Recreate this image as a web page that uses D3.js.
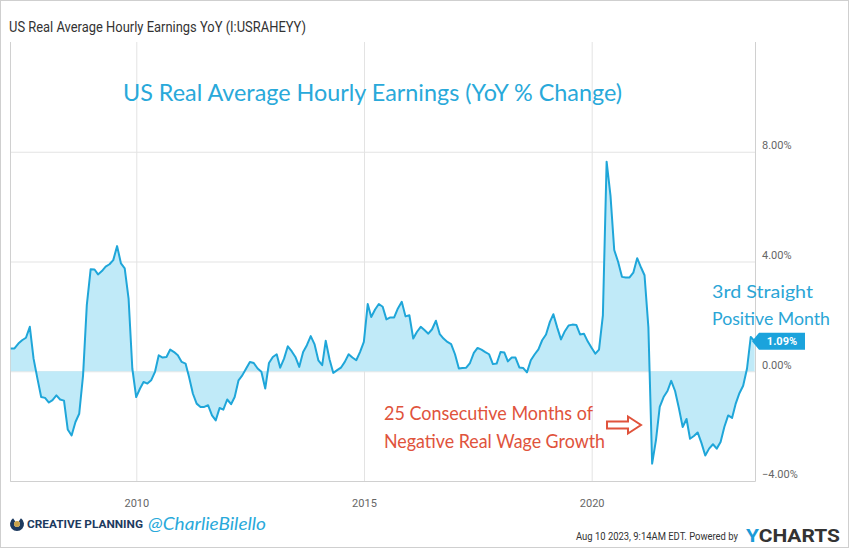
<!DOCTYPE html>
<html>
<head>
<meta charset="utf-8">
<script src="https://cdn.jsdelivr.net/npm/d3@7"></script>
<style>
  body { margin: 0; background: #fff; }
  svg { display: block; font-family: Roboto, "Liberation Sans", sans-serif; }
</style>
</head>
<body>
<svg width="850" height="549"></svg>
<script>
// US real average hourly earnings, YoY % change, monthly from Mar 2007 to Jul 2023
const firstMonth = [2007, 3]; // year, month (1 = Jan)
const yoy = [
  0.83, 0.83, 1.01, 1.13, 1.22, 1.62, 0.46, -0.27, -0.94, -0.97,
  -1.14, -1.05, -0.88, -1.03, -1.07, -2.12, -2.34, -1.85, -1.55, -0.15,
  2.41, 3.72, 3.71, 3.53, 3.65, 3.81, 3.9, 4.05, 4.56, 3.93,
  3.75, 2.65, 0.1, -0.94, -0.63, -0.39, -0.45, -0.33, -0.02, 0.58,
  0.5, 0.52, 0.79, 0.7, 0.58, 0.34, 0.28, -0.21, -0.82, -1.18,
  -1.3, -1.3, -1.24, -1.61, -1.79, -1.34, -1.4, -1.03, -1.2, -0.94,
  -0.33, -0.15, 0.1, 0.34, 0.3, 0.1, -0.02, -0.63, 0.3, 0.52,
  0.62, 0.13, 0.46, 0.91, 0.73, 0.52, 0.16, 0.7, 0.95, 1.28,
  0.99, 0.4, 0.22, 1.11, 0.43, -0.06, 0.04, 0.13, 0.34, 0.62,
  0.5, 0.4, 0.7, 1.07, 2.45, 1.98, 2.25, 2.45, 2.35, 1.89,
  1.96, 1.96, 2.29, 2.53, 2.0, 2.04, 1.19, 1.43, 1.62, 1.5,
  1.37, 1.53, 1.84, 1.35, 1.19, 1.07, 0.99, 0.62, 0.1, 0.12,
  0.13, 0.3, 0.67, 0.85, 0.79, 0.7, 0.62, 0.26, 0.28, 0.7,
  0.68, 0.36, 0.5, 0.5, 0.14, 0.12, -0.04, 0.4, 0.61, 0.8,
  1.13, 1.34, 1.8, 2.08, 1.59, 1.16, 1.46, 1.67, 1.7, 1.69,
  1.34, 1.37, 1.09, 0.86, 0.64, 0.79, 2.04, 7.64, 6.4, 4.42,
  3.99, 3.44, 3.42, 3.42, 3.59, 4.12, 3.78, 3.5, 1.6, -3.37,
  -2.5, -1.3, -0.94, -0.72, -0.35, -0.72, -1.33, -2.03, -1.74, -2.46,
  -2.36, -2.23, -2.62, -3.07, -2.82, -2.66, -2.82, -2.58, -2.03, -1.61,
  -1.7, -1.2, -0.8, -0.53, 0.1, 1.25, 1.09
];
const yTicks = [-4, 0, 4, 8];
const xTickYears = [2010, 2015, 2020];
const lastLabel = "1.09%";

const chartTitle = "US Real Average Hourly Earnings YoY (I:USRAHEYY)";
const bigNote = "US Real Average Hourly Earnings (YoY % Change)";
const redNote = ["25 Consecutive Months of", "Negative Real Wage Growth"];
const blueNote = ["3rd Straight", "Positive Month"];

const plotLeft = 10, plotRight = 755, plotTop = 42, plotBottom = 481;
const lineColor = "#1fa6d9";
const fillColor = "#c0eaf8";
const noteFont = "Lato, 'Open Sans', sans-serif";

// points sit at month end, like the source chart
const data = yoy.map((v, i) => ({
  date: new Date(firstMonth[0], firstMonth[1] + i, 0),
  value: v
}));

const svg = d3.select("svg");

svg.append("rect")
  .attr("x", 0.5).attr("y", 0.5)
  .attr("width", 848).attr("height", 547)
  .attr("fill", "#fff").attr("stroke", "#cfcfcf");

const x = d3.scaleTime()
  .domain([new Date(2007, 2, 25), new Date(2023, 7, 3)])
  .range([plotLeft, plotRight]);

const y = d3.scaleLinear()
  .domain([-4, 12])
  .range([plotBottom, plotTop]);

const yearTicks = xTickYears.map(yr => new Date(yr, 0, 1));

// grid
svg.append("g")
  .attr("transform", `translate(0,${plotBottom})`)
  .call(d3.axisBottom(x).tickValues(yearTicks)
    .tickSize(-(plotBottom - plotTop)).tickFormat(""))
  .call(g => g.select(".domain").remove())
  .call(g => g.selectAll("line").attr("stroke", "#e3e3e3"));

svg.append("g")
  .attr("transform", `translate(${plotLeft},0)`)
  .call(d3.axisRight(y).tickValues(yTicks).tickSize(plotRight - plotLeft).tickFormat(""))
  .call(g => g.select(".domain").remove())
  .call(g => g.selectAll("line").attr("stroke", "#e3e3e3"));

// plot frame (left, right, bottom)
svg.append("path")
  .attr("d", `M${plotLeft + 0.5},${plotTop}V${plotBottom + 0.5}H${plotRight + 0.5}V${plotTop}`)
  .attr("fill", "none").attr("stroke", "#d0d0d0");

svg.append("defs").append("clipPath").attr("id", "plot")
  .append("rect").attr("x", plotLeft).attr("y", plotTop)
  .attr("width", plotRight - plotLeft).attr("height", plotBottom - plotTop);

const area = d3.area()
  .x(d => x(d.date))
  .y0(y(0))
  .y1(d => y(d.value));

const line = d3.line()
  .x(d => x(d.date))
  .y(d => y(d.value));

const plot = svg.append("g").attr("clip-path", "url(#plot)");

plot.append("path")
  .datum(data)
  .attr("d", area)
  .attr("fill", fillColor);

plot.append("path")
  .datum(data)
  .attr("d", line)
  .attr("fill", "none")
  .attr("stroke", lineColor)
  .attr("stroke-width", 2)
  .attr("stroke-linejoin", "round");

// axes labels
svg.append("g")
  .attr("transform", `translate(${plotRight},0)`)
  .call(d3.axisRight(y).tickValues(yTicks).tickSize(0).tickPadding(7)
    .tickFormat(d => d3.format(".2f")(d) + "%"))
  .call(g => g.select(".domain").remove())
  .call(g => g.selectAll("text")
    .attr("dy", "-0.28em")
    .attr("fill", "#666")
    .attr("font-size", 11)
    .attr("font-family", "Roboto, sans-serif"));

svg.append("g")
  .attr("transform", `translate(0,${plotBottom})`)
  .call(d3.axisBottom(x).tickValues(yearTicks)
    .tickSize(0).tickPadding(18).tickFormat(d3.timeFormat("%Y")))
  .call(g => g.select(".domain").remove())
  .call(g => g.selectAll("text")
    .attr("fill", "#666")
    .attr("font-size", 11)
    .attr("font-family", "Roboto, sans-serif"));

// last value badge
const last = data[data.length - 1];
const bx = plotRight + 2, by = y(last.value);
svg.append("path")
  .attr("d", `M${bx - 5},${by}L${bx + 2},${by - 8.5}H${bx + 48}V${by + 8.5}H${bx + 2}Z`)
  .attr("fill", "#1ba3dc");
svg.append("text")
  .attr("x", bx + 25).attr("y", by + 4)
  .attr("text-anchor", "middle")
  .attr("fill", "#fff")
  .attr("font-size", 11)
  .attr("font-weight", "bold")
  .text(lastLabel);

// title
svg.append("text")
  .attr("x", 9).attr("y", 32)
  .attr("font-size", 14)
  .attr("fill", "#333")
  .attr("textLength", 297)
  .attr("lengthAdjust", "spacingAndGlyphs")
  .text(chartTitle);

// annotations
svg.append("text")
  .attr("x", 123).attr("y", 101)
  .attr("font-family", noteFont)
  .attr("font-size", 23)
  .attr("fill", "#29a9da")
  .attr("textLength", 499)
  .attr("lengthAdjust", "spacingAndGlyphs")
  .text(bigNote);

svg.selectAll(".rednote")
  .data(redNote)
  .enter()
  .append("text")
  .attr("x", 384)
  .attr("y", (d, i) => 420 + i * 27.5)
  .attr("font-family", noteFont)
  .attr("font-size", 19)
  .attr("fill", "#e0533c")
  .attr("textLength", (d, i) => (i === 0 ? 209 : 221))
  .attr("lengthAdjust", "spacingAndGlyphs")
  .text(d => d);

svg.selectAll(".bluenote")
  .data(blueNote)
  .enter()
  .append("text")
  .attr("x", 712)
  .attr("y", (d, i) => 298 + i * 27)
  .attr("font-family", noteFont)
  .attr("font-size", 18)
  .attr("fill", "#2aa5d6")
  .attr("textLength", (d, i) => (i === 0 ? 101 : 118))
  .attr("lengthAdjust", "spacingAndGlyphs")
  .text(d => d);

// red outline arrow
svg.append("path")
  .attr("d", "M607,421.5H628V416.5L641,425L628,433.5V428.5H607Z")
  .attr("fill", "#fff")
  .attr("stroke", "#e0533c")
  .attr("stroke-width", 2)
  .attr("stroke-linejoin", "miter");

// footer: creative planning logo
const logo = svg.append("g").attr("transform", "translate(17,524)");
logo.append("path")
  .attr("d", d3.arc()({ innerRadius: 3, outerRadius: 7, startAngle: 0.6, endAngle: 2 * Math.PI - 0.6 }))
  .attr("fill", "#1d3a5f");
logo.append("path")
  .attr("d", d3.arc()({ innerRadius: 0, outerRadius: 3, startAngle: 0, endAngle: 2 * Math.PI }))
  .attr("fill", "#c9a24a");
svg.append("text")
  .attr("x", 27).attr("y", 528)
  .attr("font-size", 10)
  .attr("font-weight", "bold")
  .attr("fill", "#1d3a5f")
  .attr("textLength", 116)
  .attr("lengthAdjust", "spacingAndGlyphs")
  .text("CREATIVE PLANNING");
svg.append("text")
  .attr("x", 148).attr("y", 530)
  .attr("font-family", noteFont)
  .attr("font-size", 18)
  .attr("font-style", "italic")
  .attr("fill", "#29a9da")
  .attr("textLength", 118)
  .attr("lengthAdjust", "spacingAndGlyphs")
  .text("@CharlieBilello");

// footer: source
svg.append("text")
  .attr("x", 576).attr("y", 540)
  .attr("font-size", 10)
  .attr("fill", "#333")
  .attr("textLength", 162)
  .attr("lengthAdjust", "spacingAndGlyphs")
  .text("Aug 10 2023, 9:14AM EDT.  Powered by");
const yc = svg.append("text")
  .attr("x", 746).attr("y", 542)
  .attr("font-size", 19)
  .attr("font-weight", "bold")
  .attr("textLength", 94)
  .attr("lengthAdjust", "spacingAndGlyphs");
yc.append("tspan").attr("fill", "#1a9bd7").text("Y");
yc.append("tspan").attr("fill", "#333").text("CHARTS");
</script>
</body>
</html>
